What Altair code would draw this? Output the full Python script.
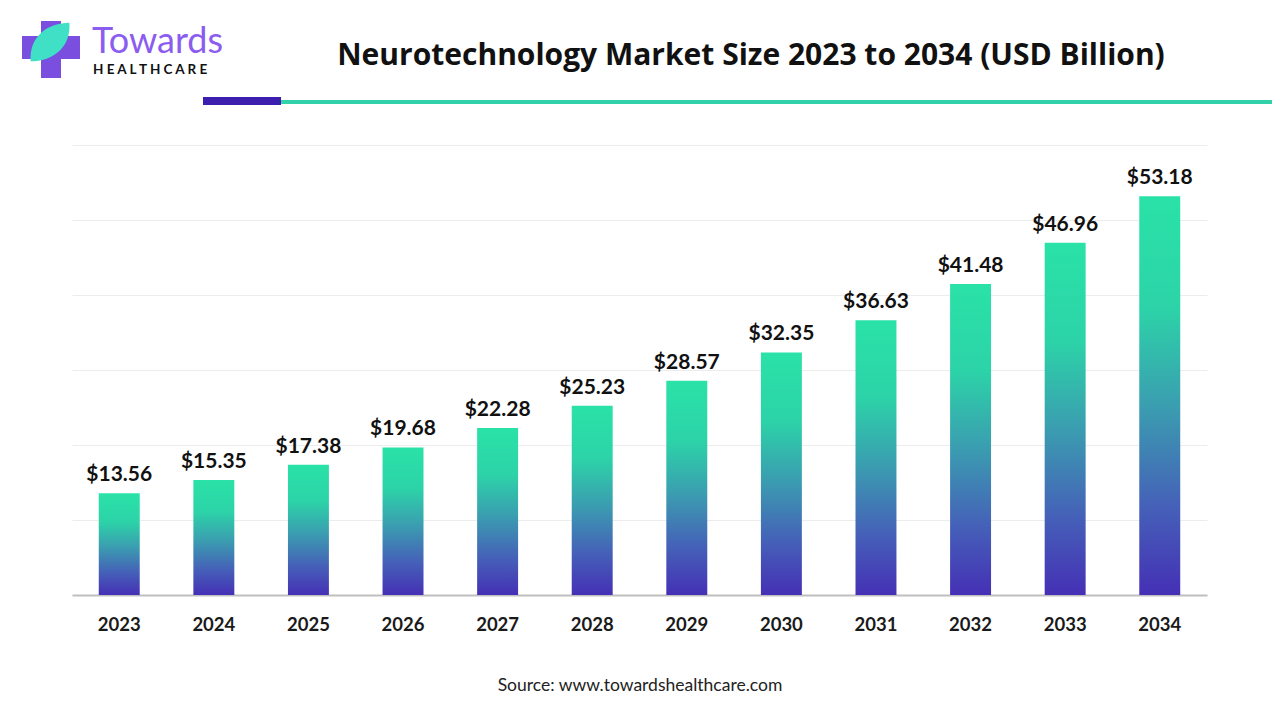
import altair as alt
import pandas as pd

years = ["2023", "2024", "2025", "2026", "2027", "2028", "2029", "2030", "2031", "2032", "2033", "2034"]
values = [13.56, 15.35, 17.38, 19.68, 22.28, 25.23, 28.57, 32.35, 36.63, 41.48, 46.96, 53.18]
labels = ["$" + f"{v:.2f}" for v in values]

title_text = "Neurotechnology Market Size 2023 to 2034 (USD Billion)"
source_text = "Source: www.towardshealthcare.com"

df = pd.DataFrame({"year": years, "value": values, "label": labels})

W, H = 1135, 450

grad = alt.Gradient(
    gradient="linear",
    stops=[
        alt.GradientStop(color="#4530b5", offset=0),
        alt.GradientStop(color="#4560b8", offset=0.22),
        alt.GradientStop(color="#3a9fb0", offset=0.48),
        alt.GradientStop(color="#2cd3a8", offset=0.72),
        alt.GradientStop(color="#2ae2a7", offset=1),
    ],
    x1=0, x2=0, y1=1, y2=0,
)

x_enc = alt.X(
    "year:O",
    sort=years,
    scale=alt.Scale(paddingInner=0.567, paddingOuter=0.283),
    axis=alt.Axis(
        title=None, labelAngle=0, labelFont="Lato", labelFontSize=18.5,
        labelFontWeight="bold", labelColor="#1a1a1a", labelPadding=20,
        ticks=False, domainColor="#bfbfbf", domainWidth=2, grid=False,
    ),
)
y_enc = alt.Y(
    "value:Q",
    scale=alt.Scale(domain=[0, 60]),
    axis=alt.Axis(
        title=None, labels=False, ticks=False, domain=False,
        values=[0, 10, 20, 30, 40, 50, 60], gridColor="#ececec", gridWidth=1,
    ),
)

base = alt.Chart(df)
bars = base.mark_bar(fill=grad).encode(x=x_enc, y=y_enc)
text = base.mark_text(
    baseline="bottom", dy=-8, font="Lato", fontSize=21, fontWeight="bold", color="#111111"
).encode(x=alt.X("year:O", sort=years), y="value:Q", text="label:N")

one = pd.DataFrame({"a": [0]})
deco = alt.Chart(one)

title = deco.mark_text(
    font="Open Sans", fontSize=30, fontWeight="bold", color="#111111", baseline="middle", align="center"
).encode(x=alt.value(679), y=alt.value(-89), text=alt.value(title_text))

source = deco.mark_text(
    font="Lato", fontSize=17.5, color="#222222", baseline="middle", align="center"
).encode(x=alt.value(568), y=alt.value(541), text=alt.value(source_text))

line_purple = deco.mark_rect(color="#3d1fb0").encode(
    x=alt.value(131), x2=alt.value(209), y=alt.value(-48), y2=alt.value(-40)
)
line_teal = deco.mark_rect(color="#33d1a9").encode(
    x=alt.value(209), x2=alt.value(1200), y=alt.value(-45), y2=alt.value(-41)
)

cross_v = deco.mark_rect(color="#7a4fe0").encode(
    x=alt.value(-31), x2=alt.value(-11), y=alt.value(-124), y2=alt.value(-67)
)
cross_h = deco.mark_rect(color="#7a4fe0").encode(
    x=alt.value(-50), x2=alt.value(8), y=alt.value(-109), y2=alt.value(-86)
)
leaf = deco.mark_point(
    shape="M -1 1 C -1.1 -0.3 -0.1 -1 1 -1 C 1.1 0.3 0.1 1 -1 1 Z",
    filled=True, color="#3fe0c5", opacity=1, size=1500,
).encode(x=alt.value(-22), y=alt.value(-103))
brand = deco.mark_text(
    font="Lato", fontSize=36, color="#8b5cf0", align="left", baseline="alphabetic"
).encode(x=alt.value(20), y=alt.value(-92), text=alt.value("Towards"))
brand2 = deco.mark_text(
    font="Lato", fontSize=13.5, fontWeight="bold", color="#111111", align="left", baseline="alphabetic"
).encode(x=alt.value(21), y=alt.value(-71), text=alt.value("H E A L T H C A R E"))

chart = alt.layer(
    bars, text, title, source, line_purple, line_teal, cross_v, cross_h, leaf, brand, brand2
).properties(
    width=W, height=H,
    autosize=alt.AutoSizeParams(type="none"),
    padding={"left": 64, "top": 137, "right": 65, "bottom": 117},
    background="white",
).configure_view(stroke=None)

chart.save("out.html", embed_options={"renderer": "svg", "actions": False})
